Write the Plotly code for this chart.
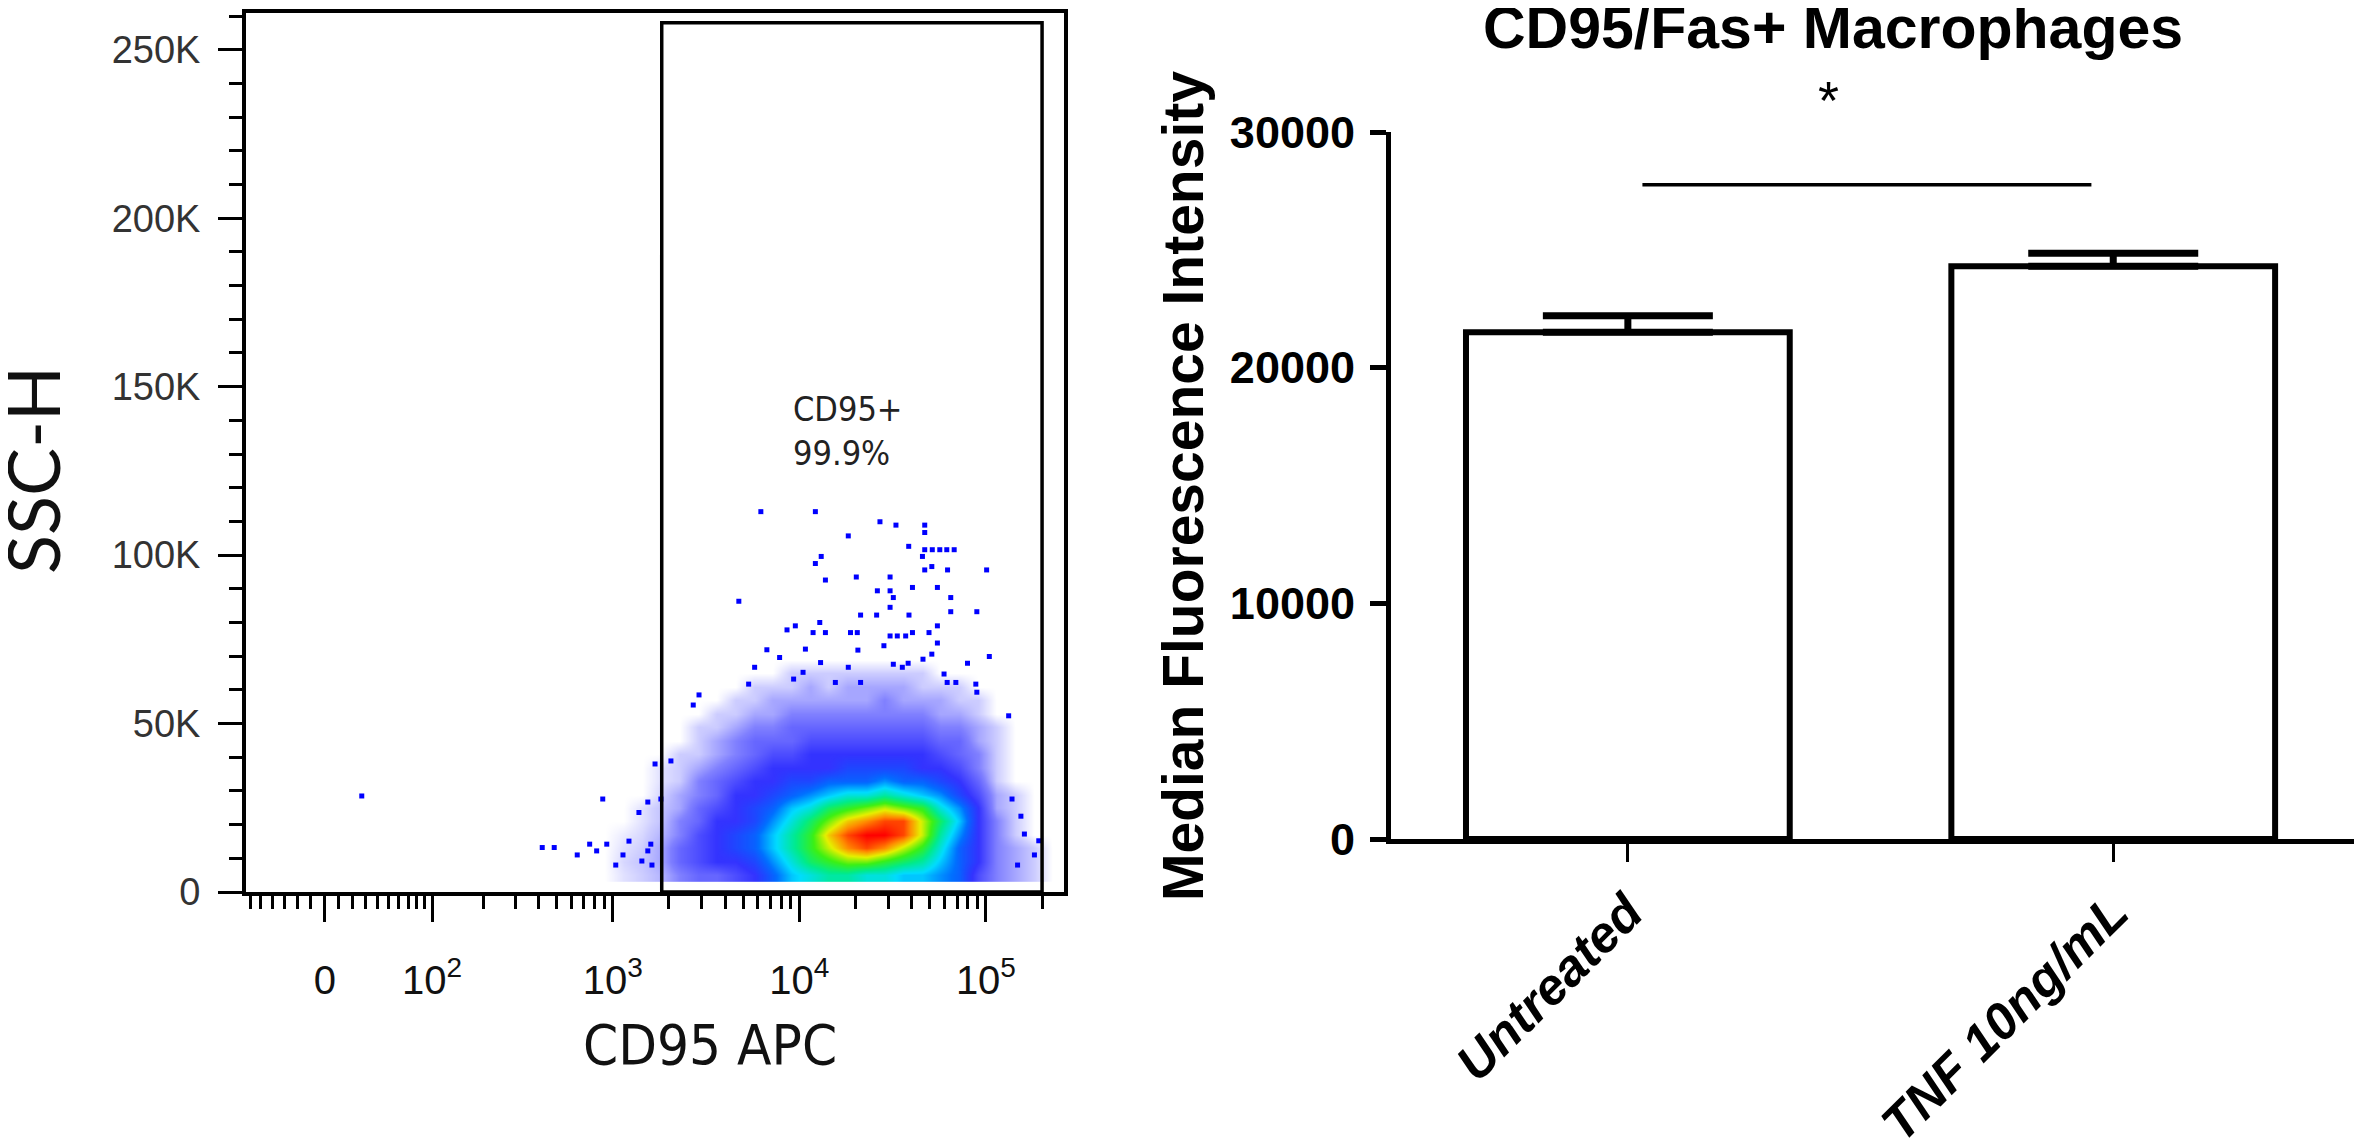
import numpy as np
import plotly.graph_objects as go

# -------------------------
# Flow plot data (CD95 APC vs SSC-H)
# -------------------------

# density: columns = CD95 bin centres, rows = SSC bin centres
cd95_bins = [905, 1140, 1435, 1810, 2280, 2870, 3610, 4540, 5720, 7200, 9060, 11400, 14400,
             18100, 22800, 28700, 36100, 45400, 57200, 72000, 90600, 114000, 144000, 181000,
             227000]
ssc_bins = [5000, 9000, 13000, 17000, 21000, 25000, 29000, 33000,
            37000, 41000, 45000, 49000, 53000, 57000, 61000, 65000, 69000]
density = [
    [0, 0.3, 0.5, 0.8, 1.5, 2, 2, 2.5, 3, 4, 5, 5.5, 6, 6, 5.5, 5.5, 5, 5, 4.5, 4, 2.5, 1.5, 1, 0.5, 0],
    [0, 0.4, 0.6, 1, 2, 2.5, 3, 3, 3.5, 4.5, 5.5, 6.5, 7, 7.5, 7.5, 7, 6.5, 6, 5, 4, 3, 1.5, 1, 0.5, 0],
    [0, 0.3, 0.5, 1, 2, 2.5, 3, 3.5, 4, 5, 6, 7, 8, 9, 9.5, 9, 8, 7, 5.5, 4, 3, 1.5, 1, 0.5, 0],
    [0, 0.2, 0.4, 0.8, 1.5, 2.5, 3, 3.5, 4, 5, 6, 7, 8.5, 9.5, 10, 10, 9.5, 8, 6, 4.5, 3, 1.5, 0.5, 0, 0],
    [0, 0, 0.3, 0.6, 1.5, 2, 3, 3, 3.5, 4.5, 5.5, 6.5, 7.5, 8.5, 9, 9.5, 9.5, 8, 6.5, 5, 3, 1.5, 0.5, 0, 0],
    [0, 0, 0.3, 0.6, 1, 2, 2.5, 3, 3.5, 4, 5, 5.5, 6.5, 7, 7.5, 8, 7.5, 7, 5.5, 4.5, 3, 1, 0.5, 0, 0],
    [0, 0, 0, 0.4, 1, 1.5, 2, 3, 3, 3.5, 4, 4.5, 5, 5.5, 5.5, 6, 5.5, 5, 4.5, 3.5, 2.5, 1, 0.5, 0, 0],
    [0, 0, 0, 0.3, 0.5, 1.5, 2, 2.5, 3, 3, 3.5, 3.5, 4, 4, 4, 4.5, 4, 4, 3.5, 3, 2, 0.5, 0, 0, 0],
    [0, 0, 0, 0.3, 0.5, 1, 1.5, 2, 2.5, 3, 3, 3, 3, 3.5, 3.5, 3.5, 3.5, 3, 3, 2.5, 1.5, 0.5, 0, 0, 0],
    [0, 0, 0, 0, 0.5, 0.5, 1, 1.5, 2, 2.5, 2.5, 3, 3, 3, 3, 3, 3, 3, 2.5, 2, 1.5, 0.5, 0, 0, 0],
    [0, 0, 0, 0, 0, 0.5, 1, 1.5, 2, 2, 2, 2.5, 2.5, 2.5, 2.5, 2.5, 2.5, 2.5, 2, 2, 1, 0.5, 0, 0, 0],
    [0, 0, 0, 0, 0, 0.5, 0.5, 1, 1.5, 1.5, 2, 2, 2, 2, 2, 2, 2, 2, 1.5, 1.5, 1, 0.5, 0, 0, 0],
    [0, 0, 0, 0, 0, 0, 0.5, 0.5, 1, 1, 1.5, 1.5, 1.5, 1.5, 1.5, 1.5, 1.5, 1.5, 1, 1, 0.5, 0, 0, 0, 0],
    [0, 0, 0, 0, 0, 0, 0, 0.5, 0.5, 1, 1, 1, 1, 1, 1, 1.5, 1, 1, 1, 0.5, 0.5, 0, 0, 0, 0],
    [0, 0, 0, 0, 0, 0, 0, 0, 0.5, 0.5, 0.5, 1, 0.5, 1, 1, 1, 1, 0.5, 0.5, 0.5, 0, 0, 0, 0, 0],
    [0, 0, 0, 0, 0, 0, 0, 0, 0, 0, 0.5, 0.5, 0.5, 0.5, 0.5, 0.5, 0.5, 0.5, 0, 0, 0, 0, 0, 0, 0],
    [0, 0, 0, 0, 0, 0, 0, 0, 0, 0, 0, 0, 0, 0, 0, 0, 0, 0, 0, 0, 0, 0, 0, 0, 0],
]

# single events outside the dense cloud
event_cd95 = [27, 417, 484, 644, 751, 819, 928, 883, 1037, 1134, 1221, 1381, 1432, 1541,
              1599, 1622, 1685, 1541, 1811, 2050, 2900, 2700,
              6220, 12190, 27050, 32950, 47000, 47000, 18300, 38570, 47000, 51600, 56600,
              61700, 67600, 45700, 13100, 12190, 47000, 51300, 62300, 100900, 20200, 30650,
              13800, 4740, 40400, 54960, 26200, 30650, 64800, 31900, 30650, 64800, 89400,
              21300, 25960, 38700, 12870, 9520, 8590, 11850, 13800, 18800, 20450, 30650,
              33500, 37150, 40400, 49550, 54960, 54960, 104300, 132400, 138000, 154000,
              160800, 182000, 192000, 147800, 6700, 5760, 5350, 7840, 79700, 88300, 89400,
              59650, 62000, 69000, 51300, 46000, 38300, 31900, 35650, 28400, 20600, 18300,
              15600, 21300, 10470, 9320, 13000, 10780]
event_ssc = [28500, 13200, 13200, 11000, 14200, 12200, 14200, 27600, 8000, 11000, 15100,
             23600, 9200, 26700, 14200, 8000, 38000, 12200, 27600, 38900, 58500, 55500,
             112900, 112900, 109900, 108900, 108900, 106700, 105700, 102600, 101600, 101600,
             101600, 101600, 101600, 99600, 99600, 97500, 95600, 96600, 95600, 95600, 93500,
             93500, 92600, 86300, 90400, 90400, 89400, 89400, 87400, 87400, 84500, 83200,
             83200, 82200, 82200, 82200, 80000, 79000, 77800, 77000, 77000, 77000, 77000,
             76000, 76000, 76000, 77000, 77000, 79000, 73900, 69900, 52300, 27600, 22500,
             17200, 11000, 15200, 8000, 71900, 66700, 61700, 69600, 67900, 61700, 59300,
             64700, 62200, 62200, 70600, 69100, 67900, 67600, 66700, 73100, 71800, 66700,
             62200, 62200, 65200, 63200, 68100, 72100]

gate_cd95 = [1830, 200000]
gate_ssc_top = 258000

x_major = [0, 100, 1000, 10000, 100000]
x_major_text = ["0", "10<sup>2</sup>", "10<sup>3</sup>", "10<sup>4</sup>", "10<sup>5</sup>"]
x_minor = [-60, -50, -40, -30, -20, -10, 10, 20, 30, 40, 50, 60, 70, 80, 90,
           200, 300, 400, 500, 600, 700, 800, 900,
           2000, 3000, 4000, 5000, 6000, 7000, 8000, 9000,
           20000, 30000, 40000, 50000, 60000, 70000, 80000, 90000, 200000]
y_major = [0, 50000, 100000, 150000, 200000, 250000]
y_major_text = ["0", "50K", "100K", "150K", "200K", "250K"]

# -------------------------
# Bar chart data
# -------------------------

groups = ["Untreated", "TNF 10ng/mL"]
mfi = [21500, 24300]
sem = [700, 560]
mfi_ticks = [0, 10000, 20000, 30000]


# biexponential-like display scale for the CD95 axis
def to_disp(v):
    return np.arcsinh(np.asarray(v, dtype=float) / 57.3) / np.log(10)


W, H = 2362, 1138


def px(x):
    return x / W


def py(y):
    return 1 - y / H


dot_scale = [
    [0.0, "rgba(0,0,255,0)"],
    [0.05, "rgba(0,0,255,0.2)"],
    [0.15, "rgba(0,0,255,0.5)"],
    [0.3, "rgba(0,0,255,0.8)"],
    [0.42, "rgb(0,110,255)"],
    [0.52, "rgb(0,220,255)"],
    [0.62, "rgb(0,235,140)"],
    [0.72, "rgb(60,240,20)"],
    [0.82, "rgb(230,240,0)"],
    [0.9, "rgb(255,140,0)"],
    [1.0, "rgb(255,0,0)"],
]

narrow = "DejaVu Sans Condensed, Liberation Sans"

fig = go.Figure()

fig.add_trace(go.Heatmap(
    x=to_disp(cd95_bins).tolist(), y=ssc_bins, z=density,
    zmin=0, zmax=10, zsmooth="best", colorscale=dot_scale,
    showscale=False, hoverinfo="skip", xaxis="x", yaxis="y"
))

fig.add_trace(go.Scatter(
    x=to_disp(event_cd95).tolist(), y=event_ssc, mode="markers",
    marker=dict(color="#0000ff", size=5, symbol="square"),
    hoverinfo="skip", xaxis="x", yaxis="y"
))

fig.add_trace(go.Bar(
    x=groups, y=mfi, width=0.667,
    marker=dict(color="white", line=dict(color="black", width=6)),
    error_y=dict(type="data", array=sem, arrayminus=[0, 0], symmetric=False,
                 color="black", thickness=7, width=85),
    xaxis="x2", yaxis="y2"
))

sig_y = max(m + s for m, s in zip(mfi, sem)) + 2900

fig.update_layout(
    width=W, height=H,
    margin=dict(l=0, r=0, t=0, b=0, autoexpand=False),
    paper_bgcolor="white", plot_bgcolor="white",
    showlegend=False,
    xaxis=dict(
        domain=[px(238), px(1056)], anchor="y", automargin=False,
        range=[float(to_disp(-65)), float(to_disp(262144))],
        showline=True, linecolor="black", linewidth=4, mirror=True,
        showgrid=False, zeroline=False,
        ticks="outside", ticklen=26, tickwidth=3, tickcolor="black",
        tickvals=to_disp(x_major).tolist(), ticktext=x_major_text,
        tickfont=dict(family="Liberation Sans", size=40, color="#111"),
        ticklabelstandoff=24,
        minor=dict(tickvals=to_disp(x_minor).tolist(), ticks="outside",
                   ticklen=13, tickwidth=2.5, tickcolor="black", showgrid=False),
    ),
    yaxis=dict(
        domain=[py(884), py(4.7)], anchor="x", automargin=False,
        range=[0, 261000],
        showline=True, linecolor="black", linewidth=4, mirror=True,
        showgrid=False, zeroline=False,
        ticks="outside", ticklen=24, tickwidth=3, tickcolor="black",
        tickvals=y_major, ticktext=y_major_text,
        tickfont=dict(family="Liberation Sans", size=38, color="#333"),
        ticklabelstandoff=10,
        minor=dict(dtick=10000, ticks="outside", ticklen=13, tickwidth=2.5,
                   tickcolor="black", showgrid=False),
    ),
    xaxis2=dict(
        domain=[px(1383), 1.0], anchor="y2", automargin=False,
        range=[-0.488, 1.529],
        showline=True, linecolor="black", linewidth=5,
        showgrid=False, zeroline=False,
        ticks="outside", ticklen=18, tickwidth=3, tickcolor="black",
        tickangle=-45,
        tickfont=dict(family="Liberation Sans", size=51, color="black",
                      weight="bold", style="italic"),
    ),
    yaxis2=dict(
        domain=[py(831), py(124)], anchor="x2", automargin=False,
        range=[0, 30000],
        showline=True, linecolor="black", linewidth=5,
        showgrid=False, zeroline=False,
        ticks="outside", ticklen=16, tickwidth=5, tickcolor="black",
        tickvals=mfi_ticks, ticktext=[str(t) for t in mfi_ticks],
        tickfont=dict(family="Liberation Sans", size=45, color="black", weight="bold"),
        ticklabelstandoff=6,
    ),
    shapes=[
        dict(type="rect", xref="x", yref="y",
             x0=float(to_disp(gate_cd95[0])), x1=float(to_disp(gate_cd95[1])),
             y0=0, y1=gate_ssc_top,
             line=dict(color="black", width=3.5), fillcolor="rgba(0,0,0,0)"),
        dict(type="line", xref="x2", yref="y2",
             x0=0 + 0.03, x1=1 - 0.045, y0=sig_y, y1=sig_y,
             line=dict(color="black", width=3.5)),
    ],
    annotations=[
        dict(text="CD95+<br>99.9%", xref="x", yref="y",
             x=float(to_disp(9000)), y=136700, xanchor="left", yanchor="middle",
             align="left", showarrow=False,
             font=dict(family=narrow, size=34, color="#222")),
        dict(text="SSC-H", xref="paper", yref="paper", x=px(24), y=py(462),
             textangle=-90, xanchor="center", yanchor="middle", showarrow=False,
             font=dict(family="Lato", size=72, color="#111")),
        dict(text="CD95 APC", xref="paper", yref="paper", x=px(702), y=py(1036),
             xanchor="center", yanchor="middle", showarrow=False,
             font=dict(family=narrow, size=56, color="#111")),
        dict(text="CD95/Fas+ Macrophages", xref="paper", yref="paper",
             x=px(1825), y=py(20), xanchor="center", yanchor="middle", showarrow=False,
             font=dict(family="Liberation Sans", size=59, color="black", weight="bold")),
        dict(text="Median Fluorescence Intensity", xref="paper", yref="paper",
             x=px(1175), y=py(478), textangle=-90, xanchor="center", yanchor="middle",
             showarrow=False,
             font=dict(family="Liberation Sans", size=57, color="black", weight="bold")),
        dict(text="*", xref="paper", yref="paper", x=px(1820), y=py(92),
             xanchor="center", yanchor="middle", showarrow=False,
             font=dict(family="Liberation Sans", size=54, color="black")),
    ],
)

fig.write_html("out.html")
